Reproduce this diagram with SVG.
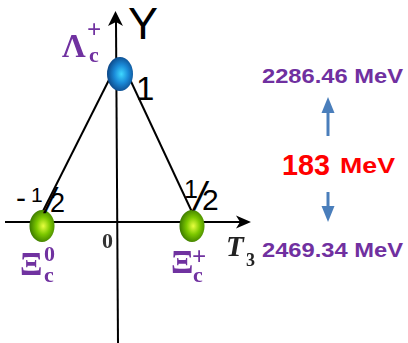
<svg xmlns="http://www.w3.org/2000/svg" width="408" height="343" viewBox="0 0 408 343">
<defs>
  <radialGradient id="gBlue" cx="0.55" cy="0.5" r="0.6">
    <stop offset="0" stop-color="#3fd8ff"/>
    <stop offset="0.45" stop-color="#1a8ad8"/>
    <stop offset="1" stop-color="#0a3a78"/>
  </radialGradient>
  <radialGradient id="gGreen" cx="0.55" cy="0.5" r="0.6">
    <stop offset="0" stop-color="#e8ff40"/>
    <stop offset="0.45" stop-color="#7cc800"/>
    <stop offset="1" stop-color="#2f6a00"/>
  </radialGradient>
  <filter id="soft" x="-20%" y="-20%" width="140%" height="140%">
    <feGaussianBlur stdDeviation="0.6"/>
  </filter>
</defs>
<style>
  .ax{stroke:#000;stroke-width:2;fill:none}
  .num{font-family:"Liberation Sans",Arial,sans-serif;fill:#000}
  .part{font-family:"Liberation Serif","Times New Roman",serif;font-weight:bold;fill:#7030a0}
  .mev{font-family:"Liberation Sans",Arial,sans-serif;font-weight:bold;fill:#7030a0;font-size:21px}
  .red{font-family:"Liberation Sans",Arial,sans-serif;font-weight:bold;fill:#ff0000}
  .bl{stroke:#4a7ebb;stroke-width:3}
</style>
<g id="connectors">
  <line class="ax" x1="116" y1="22" x2="118" y2="343"/>
  <polygon points="115.5,11 108,26 116,22 123,26" fill="#000"/>
  <line class="ax" x1="5" y1="222" x2="242" y2="222"/>
  <polygon points="251,222 236,215.5 240,222 236,228.5" fill="#000"/>
  <line class="ax" x1="120" y1="58" x2="41" y2="215"/>
  <line class="ax" x1="120" y1="58" x2="192" y2="212"/>
  <line class="bl" x1="328" y1="136" x2="328" y2="110"/>
  <polygon points="328,97 321.5,113 334.5,113" fill="#4a7ebb"/>
  <line class="bl" x1="328" y1="192" x2="328" y2="209"/>
  <polygon points="321.5,206 334.5,206 328,222" fill="#4a7ebb"/>
</g>
<g id="axis-labels">
  <text class="num" x="128" y="39" font-size="45">Y</text>
  <text x="102" y="248" font-family="Liberation Serif,serif" font-weight="bold" font-size="22" fill="#333" filter="url(#soft)">0</text>
  <text x="226" y="256" font-family="Liberation Serif,serif" font-weight="bold" font-style="italic" font-size="29" fill="#222" filter="url(#soft)">T</text>
  <text x="246" y="266" font-family="Liberation Serif,serif" font-weight="bold" font-size="18" fill="#222" filter="url(#soft)">3</text>
</g>
<g id="node-lambda">
  <ellipse cx="120" cy="74" rx="13" ry="17" fill="url(#gBlue)"/>
  <g filter="url(#soft)">
    <text class="part" x="62" y="57" font-size="33">Λ</text>
    <text class="part" x="87" y="38" font-size="25">+</text>
    <text class="part" x="89" y="62" font-size="22">c</text>
  </g>
  <text class="num" x="136" y="100" font-size="33">1</text>
</g>
<g id="node-xi0">
  <ellipse cx="42" cy="226" rx="12.5" ry="16" fill="url(#gGreen)"/>
  <g filter="url(#soft)">
    <text class="part" x="20" y="275" font-size="33">Ξ</text>
    <text class="part" x="44" y="261" font-size="22">0</text>
    <text class="part" x="44" y="282" font-size="22">c</text>
  </g>
  <text class="num" x="16" y="208" font-size="30">-</text>
  <text class="num" x="31" y="202" font-size="21">1</text>
  <text class="num" font-size="36" transform="translate(43,213) skewX(-12)">/</text>
  <text class="num" x="50" y="212" font-size="27">2</text>
</g>
<g id="node-xiplus">
  <ellipse cx="192" cy="226" rx="12.5" ry="16" fill="url(#gGreen)"/>
  <g filter="url(#soft)">
    <text class="part" x="171" y="273" font-size="33">Ξ</text>
    <text class="part" x="192" y="265" font-size="25">+</text>
    <text class="part" x="193" y="282" font-size="22">c</text>
  </g>
  <text class="num" x="184" y="198" font-size="25">1</text>
  <text class="num" font-size="40" transform="translate(192,210) skewX(-12)">/</text>
  <text class="num" x="202" y="210" font-size="30">2</text>
</g>
<g id="masses">
  <text class="mev" x="262" y="83" textLength="141" lengthAdjust="spacingAndGlyphs">2286.46 MeV</text>
  <text class="red" x="282" y="175" font-size="30" textLength="48" lengthAdjust="spacingAndGlyphs">183</text>
  <text class="red" x="340" y="173" font-size="22" textLength="55" lengthAdjust="spacingAndGlyphs">MeV</text>
  <text class="mev" x="262" y="257" textLength="141" lengthAdjust="spacingAndGlyphs">2469.34 MeV</text>
</g>
</svg>
